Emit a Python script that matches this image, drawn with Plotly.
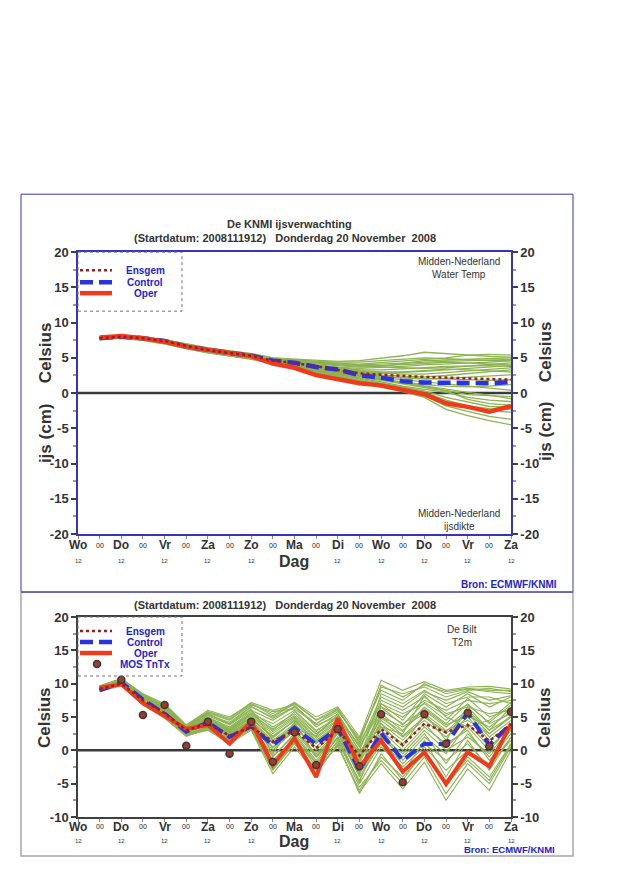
import plotly.graph_objects as go

# ---------------- data ----------------
hours = [12, 24, 36, 48, 60, 72, 84, 96, 108, 120, 132, 144, 156, 168, 180, 192, 204, 216, 228, 240]

tick_hours = [0, 12, 24, 36, 48, 60, 72, 84, 96, 108, 120, 132, 144, 156, 168, 180, 192, 204, 216, 228, 240]
tick_labels = ["Wo", "00", "Do", "00", "Vr", "00", "Za", "00", "Zo", "00", "Ma",
               "00", "Di", "00", "Wo", "00", "Do", "00", "Vr", "00", "Za"]

# top panel: water temperature / ice thickness (Midden-Nederland)
wt_ensgem = [7.8, 8.0, 7.8, 7.4, 6.7, 6.1, 5.7, 5.3, 4.6, 4.3, 3.8, 3.3, 2.8, 2.6, 2.4, 2.3, 2.2, 2.1, 2.0, 1.9]
wt_control = [7.8, 8.0, 7.8, 7.4, 6.6, 6.1, 5.7, 5.3, 4.6, 4.3, 3.7, 3.35, 2.55, 2.2, 1.7, 1.5, 1.4, 1.45, 1.4, 1.55]
wt_oper = [7.9, 8.1, 7.8, 7.3, 6.6, 6.1, 5.6, 5.25, 4.2, 3.6, 2.55, 1.9, 1.4, 1.1, 0.4, -0.15, -1.45, -1.95, -2.65, -1.85]

wt_members = [
    [7.9, 8.1, 7.9, 7.6, 7.0, 6.4, 6.0, 5.6, 5.0, 4.8, 4.6, 4.5, 4.6, 4.9, 5.3, 5.8, 5.6, 5.3, 5.2, 5.1],
    [7.8, 8.0, 7.8, 7.4, 6.7, 6.2, 5.8, 5.4, 4.9, 4.7, 4.4, 4.2, 4.1, 4.3, 4.5, 4.7, 5.0, 5.4, 5.5, 5.4],
    [7.7, 7.9, 7.7, 7.3, 6.6, 6.0, 5.6, 5.2, 4.5, 4.2, 3.9, 3.7, 3.5, 3.6, 3.8, 4.0, 4.1, 4.2, 4.4, 4.6],
    [7.8, 8.0, 7.8, 7.4, 6.8, 6.2, 5.7, 5.3, 4.7, 4.4, 4.1, 3.9, 3.7, 3.8, 4.2, 4.6, 4.7, 4.8, 4.9, 5.0],
    [7.9, 8.0, 7.8, 7.3, 6.6, 6.1, 5.6, 5.2, 4.5, 4.1, 3.6, 3.2, 2.9, 2.8, 2.9, 3.1, 3.3, 3.5, 3.7, 3.9],
    [7.8, 8.1, 7.9, 7.5, 6.8, 6.2, 5.8, 5.4, 4.8, 4.5, 4.2, 4.0, 3.8, 3.7, 3.6, 3.5, 3.6, 3.8, 4.0, 4.3],
    [7.7, 7.9, 7.7, 7.2, 6.5, 5.9, 5.5, 5.1, 4.4, 4.0, 3.4, 2.9, 2.4, 2.0, 1.6, 1.2, 1.0, 0.9, 1.0, 1.2],
    [7.8, 8.0, 7.7, 7.3, 6.6, 6.0, 5.6, 5.1, 4.4, 3.9, 3.2, 2.7, 2.1, 1.6, 1.0, 0.5, 0.1, -0.6, -1.0, -1.2],
    [7.7, 7.9, 7.6, 7.1, 6.4, 5.8, 5.3, 4.9, 4.3, 3.8, 3.1, 2.5, 1.8, 1.2, 0.6, 0.1, -1.0, -1.8, -2.2, -2.3],
    [7.8, 8.0, 7.7, 7.2, 6.5, 5.9, 5.5, 5.0, 4.2, 3.7, 2.9, 2.3, 1.6, 1.0, 0.4, -0.4, -1.8, -2.6, -3.3, -3.7],
    [7.9, 8.1, 7.8, 7.4, 6.7, 6.1, 5.7, 5.3, 4.6, 4.2, 3.6, 3.1, 2.6, 2.3, 2.1, 2.0, 2.1, 2.3, 2.4, 2.6],
    [7.8, 8.0, 7.8, 7.4, 6.7, 6.1, 5.6, 5.2, 4.5, 4.1, 3.5, 3.0, 2.4, 2.0, 1.5, 1.0, 0.4, -0.2, -0.4, -0.5],
    [7.6, 7.8, 7.5, 7.0, 6.3, 5.7, 5.3, 4.8, 4.1, 3.6, 2.8, 2.1, 1.4, 0.8, 0.2, -0.6, -2.3, -3.2, -3.9, -4.5],
    [7.9, 8.2, 8.0, 7.6, 7.0, 6.4, 6.0, 5.6, 5.0, 4.7, 4.5, 4.4, 4.4, 4.6, 4.8, 5.0, 4.9, 4.7, 4.6, 4.6],
    [7.8, 8.0, 7.8, 7.4, 6.7, 6.1, 5.7, 5.3, 4.7, 4.4, 4.0, 3.6, 3.2, 3.0, 3.0, 3.2, 3.4, 3.3, 3.1, 3.0],
    [7.7, 7.9, 7.7, 7.3, 6.6, 6.0, 5.5, 5.1, 4.4, 4.0, 3.4, 3.0, 2.5, 2.2, 1.9, 1.6, 1.3, 1.0, 0.6, 0.4],
    [7.8, 8.0, 7.7, 7.3, 6.6, 6.0, 5.5, 5.1, 4.3, 3.8, 3.0, 2.4, 1.7, 1.1, 0.5, -0.1, -1.3, -2.0, -2.5, -2.7],
    [7.9, 8.1, 7.9, 7.5, 6.9, 6.3, 5.9, 5.5, 4.8, 4.5, 4.3, 4.1, 3.9, 3.9, 4.0, 4.2, 4.4, 4.3, 4.1, 4.0],
    [7.8, 8.0, 7.8, 7.3, 6.6, 6.0, 5.6, 5.2, 4.6, 4.2, 3.7, 3.4, 3.0, 2.6, 2.4, 2.3, 2.5, 2.8, 3.0, 3.3],
    [7.7, 7.9, 7.7, 7.3, 6.6, 6.0, 5.5, 5.1, 4.4, 4.0, 3.4, 2.8, 2.2, 1.8, 1.3, 0.8, 0.3, -0.9, -1.5, -1.7],
    [7.8, 8.0, 7.8, 7.4, 6.8, 6.2, 5.8, 5.4, 4.8, 4.6, 4.3, 4.1, 4.0, 4.1, 4.3, 4.4, 4.5, 4.6, 4.7, 4.8],
    [7.8, 8.0, 7.7, 7.3, 6.6, 6.0, 5.6, 5.2, 4.5, 4.1, 3.5, 3.1, 2.7, 2.4, 2.2, 2.1, 1.9, 1.8, 1.8, 1.9],
    [7.9, 8.1, 7.8, 7.4, 6.7, 6.1, 5.7, 5.3, 4.6, 4.3, 3.9, 3.6, 3.3, 3.3, 3.4, 3.6, 3.8, 3.9, 3.9, 3.8],
    [7.6, 7.8, 7.5, 7.0, 6.3, 5.7, 5.3, 4.9, 4.3, 3.9, 3.3, 2.6, 2.0, 1.4, 0.9, 0.3, -0.6, -1.3, -1.9, -2.0],
    [7.8, 8.0, 7.8, 7.3, 6.7, 6.1, 5.6, 5.2, 4.6, 4.3, 3.8, 3.5, 3.1, 2.9, 2.7, 2.7, 2.9, 3.1, 3.4, 3.6],
    [7.8, 8.0, 7.7, 7.3, 6.6, 6.0, 5.6, 5.1, 4.4, 4.0, 3.3, 2.8, 2.3, 1.9, 1.5, 1.0, 0.6, 0.1, -0.3, -0.8],
]

# bottom panel: T2m De Bilt
t2m_ensgem = [9.2, 10.0, 7.5, 5.6, 3.0, 4.0, 2.2, 3.5, 1.3, 3.0, 0.3, 3.0, -0.8, 3.2, 0.8, 4.0, 2.7, 3.8, 1.4, 3.9]
t2m_control = [9.0, 10.2, 7.6, 5.5, 2.8, 4.2, 2.0, 3.6, 0.8, 3.4, 0.9, 3.3, -3.0, 2.6, -1.5, 1.0, 0.9, 5.6, 0.8, 4.0]
t2m_oper = [9.4, 9.9, 7.1, 5.1, 3.2, 3.8, 1.0, 4.3, -2.2, 1.8, -4.0, 4.8, -2.5, 1.5, -3.2, -0.3, -5.0, -0.3, -2.4, 4.0]
mos_tntx = [None, 10.6, 5.3, 6.8, 0.7, 4.3, -0.5, 4.3, -1.7, 2.7, -2.2, 3.2, -2.4, 5.4, -4.8, 5.4, 1.0, 5.6, 0.6, 5.8]

t2m_members = [
    [9.2, 10.3, 7.8, 5.9, 3.0, 4.5, 2.8, 4.8, 2.0, 4.5, 1.5, 3.8, -1.0, 4.0, 1.5, 5.0, 2.5, 5.5, 2.0, 4.5],
    [9.5, 10.6, 8.2, 6.5, 3.5, 5.5, 4.0, 6.5, 5.0, 7.0, 4.5, 6.0, 1.5, 9.5, 8.5, 9.5, 8.0, 9.0, 9.3, 8.8],
    [8.9, 9.8, 7.0, 5.0, 2.3, 3.2, 1.5, 3.5, -2.5, 1.5, -3.0, 1.5, -5.5, -1.5, -5.0, -1.0, -6.5, -2.0, -5.0, 0.5],
    [9.3, 10.4, 7.6, 5.6, 2.9, 4.3, 2.4, 4.2, 1.0, 3.5, 0.5, 3.5, -2.5, 2.5, -1.5, 2.0, -0.5, 4.0, 0.5, 3.5],
    [9.6, 10.7, 8.3, 6.8, 3.7, 5.8, 4.8, 7.2, 6.0, 6.8, 3.5, 5.5, 0.5, 6.5, 5.0, 7.5, 6.0, 7.5, 7.0, 7.5],
    [9.0, 10.0, 7.2, 5.3, 2.6, 3.8, 1.8, 3.8, -1.0, 2.5, -1.5, 2.5, -4.0, 1.0, -3.5, 1.5, -4.0, 1.5, -3.0, 2.0],
    [9.4, 10.5, 8.0, 6.2, 3.3, 5.0, 3.5, 5.8, 3.5, 5.5, 2.5, 5.0, 0.0, 7.5, 6.0, 8.0, 5.5, 6.5, 5.5, 6.0],
    [9.1, 10.1, 7.4, 5.4, 2.5, 3.5, 1.2, 3.2, -3.0, 1.0, -3.3, 0.8, -6.3, -2.0, -5.8, -1.8, -7.5, -2.8, -6.0, 0.0],
    [9.3, 10.3, 7.7, 5.8, 3.1, 4.8, 3.0, 5.2, 2.8, 5.0, 2.0, 4.5, -0.5, 5.5, 3.0, 6.5, 4.0, 7.0, 4.0, 5.5],
    [9.7, 10.8, 8.5, 7.0, 3.8, 6.0, 5.0, 7.0, 5.5, 7.2, 5.0, 6.5, 2.0, 10.5, 9.0, 10.3, 9.0, 9.5, 9.6, 9.2],
    [9.0, 9.9, 7.1, 5.1, 2.2, 3.0, 1.0, 3.0, -3.5, 0.5, -3.5, 1.0, -6.5, -0.5, -4.5, 0.0, -5.5, -1.0, -4.0, 1.0],
    [9.2, 10.2, 7.5, 5.5, 2.7, 4.0, 2.2, 4.0, 0.0, 3.0, -0.5, 3.0, -3.0, 3.0, 0.0, 3.5, 1.0, 3.0, -1.5, 2.5],
    [9.4, 10.4, 7.9, 6.0, 3.2, 4.7, 3.2, 5.5, 4.0, 6.0, 3.0, 4.8, -1.5, 8.5, 7.0, 9.0, 7.0, 8.0, 8.0, 7.0],
    [8.8, 9.7, 6.8, 4.8, 2.1, 3.3, 1.6, 3.4, -2.0, 2.0, -2.5, 2.0, -5.0, 0.5, -2.5, 0.5, -3.0, 0.0, -2.0, 1.5],
    [9.5, 10.5, 8.1, 6.3, 3.4, 5.2, 3.8, 6.0, 4.5, 6.5, 4.0, 6.2, 1.0, 7.0, 4.5, 8.5, 6.5, 8.5, 6.5, 8.0],
    [9.1, 10.0, 7.3, 5.2, 2.4, 3.6, 1.4, 3.6, -1.5, 1.8, -2.0, 1.2, -4.5, 2.0, -1.0, 2.5, -2.0, 2.5, -1.0, 3.0],
    [9.3, 10.2, 7.6, 5.7, 3.0, 4.4, 2.6, 4.5, 1.5, 4.0, 1.0, 4.0, -2.0, 4.5, 2.0, 4.5, 2.0, 5.0, 1.5, 4.0],
    [9.6, 10.6, 8.4, 6.6, 3.6, 5.6, 4.5, 6.8, 5.8, 6.2, 4.0, 5.8, 1.8, 9.0, 7.5, 10.0, 8.5, 9.2, 8.8, 8.5],
    [9.0, 10.0, 7.3, 5.3, 2.6, 3.9, 2.0, 4.2, 0.5, 2.8, -1.0, 2.0, -3.5, 1.5, -2.0, 1.0, -1.5, 1.0, -2.5, 2.0],
    [9.4, 10.4, 7.8, 6.1, 3.3, 4.9, 3.3, 5.6, 3.0, 5.8, 2.8, 5.2, 0.5, 6.0, 4.0, 6.0, 3.5, 6.0, 3.0, 6.5],
    [9.2, 10.1, 7.5, 5.6, 2.8, 4.1, 2.3, 4.4, 1.2, 3.8, 0.0, 3.2, -2.8, 3.5, 1.0, 4.0, 0.5, 3.5, 0.0, 3.8],
    [9.3, 10.3, 7.7, 5.9, 3.1, 4.6, 2.9, 5.0, 2.5, 4.8, 1.8, 4.2, -1.2, 5.0, 3.5, 5.5, 3.0, 4.5, 2.5, 5.0],
    [9.1, 10.2, 7.4, 5.6, 2.6, 4.0, 2.1, 4.6, -0.5, 4.2, -1.0, 2.8, -3.8, 7.0, 5.5, 7.0, 4.5, 7.8, 5.0, 6.2],
    [9.4, 10.5, 7.9, 6.0, 3.4, 5.4, 3.9, 6.2, 1.5, 3.2, 2.2, 5.4, -0.2, 3.5, 2.5, 8.2, 5.0, 3.5, 4.5, 7.2],
    [9.0, 10.1, 7.2, 5.0, 2.4, 3.4, 1.7, 3.9, -0.8, 2.2, -1.8, 1.8, -4.8, 4.0, 0.5, 5.5, 1.5, 6.5, 3.0, 5.0],
    [9.5, 10.6, 8.0, 6.4, 3.5, 5.3, 4.2, 6.6, 4.8, 6.6, 3.8, 5.0, 0.8, 8.0, 6.5, 8.8, 7.5, 8.8, 7.5, 8.2],
    [9.2, 10.2, 7.6, 5.7, 2.9, 4.2, 2.5, 4.6, 2.2, 4.4, 1.2, 3.6, -1.8, 6.5, 3.8, 7.2, 5.2, 6.8, 4.2, 6.8],
    [8.9, 9.9, 7.0, 4.9, 2.3, 3.1, 1.3, 3.3, -2.8, 1.2, -2.8, 0.6, -6.0, -1.0, -4.0, -0.5, -5.0, -1.5, -4.5, 0.8],
    [9.3, 10.4, 7.8, 6.0, 3.2, 4.6, 3.1, 5.4, 3.2, 5.2, 2.4, 4.6, -0.8, 4.8, 2.8, 6.2, 3.8, 5.2, 3.5, 5.8],
    [9.1, 10.1, 7.4, 5.4, 2.7, 4.0, 2.0, 4.1, 0.3, 3.2, -0.8, 2.6, -3.2, 2.2, -0.5, 3.0, 0.0, 2.0, -0.5, 3.2],
    [9.6, 10.7, 8.3, 6.7, 3.6, 5.7, 4.6, 7.0, 5.2, 7.1, 4.6, 6.3, 1.2, 9.8, 8.0, 9.8, 8.8, 9.3, 9.0, 9.0],
    [9.2, 10.3, 7.7, 5.8, 3.0, 4.4, 2.7, 4.9, 1.8, 4.6, 1.3, 4.0, -1.5, 5.2, 2.2, 5.0, 2.8, 5.8, 2.5, 5.2],
]

top_yticks = [20, 15, 10, 5, 0, -5, -10, -15, -20]
bot_yticks = [20, 15, 10, 5, 0, -5, -10]

legend_names_top = ["Ensgem", "Control", "Oper"]
legend_names_bot = ["Ensgem", "Control", "Oper", "MOS TnTx"]

# ---------------- style ----------------
OFF = 8                       # page body margin of the browser
W, H = 640 - 2 * OFF, 880 - 2 * OFF
YS, YO = 0.983, 15.0          # measured vertical mapping of the photographed page
FONT = "Liberation Sans, Arial, sans-serif"
GREEN = "#8db353"
RED = "#f03a1c"
BLUE = "#2a33e0"
DOTRED = "#9a1f1f"
TXT = "#333333"
LEGBLUE = "#2424c8"
AXBLUE = "#3535b5"
AXGRAY = "#404040"
MOSFILL = "#a03a30"
MOSLINE = "#3a3a3a"
CTRL_DASH = "13px,6px"


def px(x):
    return (x - OFF) / W


def py(y):
    return 1 - (y / YS - YO) / H


top_dom = [py(534), py(252)]
bot_dom = [py(817), py(617)]
x_dom = [px(78), px(511)]

fig = go.Figure()

# top panel
for m in wt_members:
    fig.add_trace(go.Scatter(x=hours, y=m, mode="lines", xaxis="x", yaxis="y",
                             line=dict(color=GREEN, width=1.3), showlegend=False, hoverinfo="skip"))
fig.add_trace(go.Scatter(x=hours, y=wt_control, mode="lines", name="Control", xaxis="x", yaxis="y",
                         line=dict(color=BLUE, width=4.5, dash=CTRL_DASH), showlegend=False))
fig.add_trace(go.Scatter(x=hours, y=wt_oper, mode="lines", name="Oper", xaxis="x", yaxis="y",
                         line=dict(color=RED, width=4.5), showlegend=False))
fig.add_trace(go.Scatter(x=hours, y=wt_ensgem, mode="lines", name="Ensgem", xaxis="x", yaxis="y",
                         line=dict(color=DOTRED, width=2.5, dash="dot"), showlegend=False))
fig.add_trace(go.Scatter(x=hours, y=wt_oper, mode="lines", xaxis="x", yaxis="y3", opacity=0,
                         line=dict(width=0), showlegend=False, hoverinfo="skip"))

# bottom panel
for m in t2m_members:
    fig.add_trace(go.Scatter(x=hours, y=m, mode="lines", xaxis="x2", yaxis="y2",
                             line=dict(color=GREEN, width=1.1), showlegend=False, hoverinfo="skip"))
fig.add_trace(go.Scatter(x=hours, y=t2m_control, mode="lines", name="Control", xaxis="x2", yaxis="y2",
                         line=dict(color=BLUE, width=4, dash=CTRL_DASH), showlegend=False))
fig.add_trace(go.Scatter(x=hours, y=t2m_oper, mode="lines", name="Oper", xaxis="x2", yaxis="y2",
                         line=dict(color=RED, width=4), showlegend=False))
fig.add_trace(go.Scatter(x=hours, y=t2m_ensgem, mode="lines", name="Ensgem", xaxis="x2", yaxis="y2",
                         line=dict(color=DOTRED, width=2.5, dash="dot"), showlegend=False))
fig.add_trace(go.Scatter(x=hours, y=mos_tntx, mode="markers", name="MOS TnTx", xaxis="x2", yaxis="y2",
                         marker=dict(color=MOSFILL, size=7, line=dict(color=MOSLINE, width=1.5)),
                         showlegend=False))
fig.add_trace(go.Scatter(x=hours, y=t2m_oper, mode="lines", xaxis="x2", yaxis="y4", opacity=0,
                         line=dict(width=0), showlegend=False, hoverinfo="skip"))

tickfont = dict(family=FONT, size=13, color=TXT, weight="bold")


def yax(dom, rng, ticks, side, linecolor, anchor, overlay=None):
    d = dict(domain=dom, range=rng, tickvals=ticks, ticktext=[str(t) for t in ticks],
             side=side, anchor=anchor, showgrid=False, zeroline=False,
             showline=True, linecolor=linecolor, linewidth=1.5,
             ticks="outside", ticklen=5, tickcolor=AXGRAY, tickwidth=1.5,
             tickfont=tickfont, fixedrange=True,
             minor=dict(dtick=2.5, ticks="outside", ticklen=3, tickcolor="#999999"))
    if overlay:
        d["overlaying"] = overlay
    return d


def xax(anchor, linecolor):
    return dict(domain=x_dom, range=[0, 240], anchor=anchor, tickvals=tick_hours,
                showticklabels=False, ticks="outside", ticklen=3, tickcolor="#888888",
                showgrid=False, zeroline=False, showline=True, mirror=True,
                linecolor=linecolor, linewidth=1.5, fixedrange=True)


fig.update_layout(
    width=W, height=H,
    margin=dict(l=0, r=0, t=0, b=0),
    paper_bgcolor="white", plot_bgcolor="white",
    font=dict(family=FONT, color=TXT),
    xaxis=xax("y", AXBLUE),
    yaxis=yax(top_dom, [-20, 20], top_yticks, "left", AXBLUE, "x"),
    yaxis3=yax(top_dom, [-20, 20], top_yticks, "right", AXBLUE, "x", overlay="y"),
    xaxis2=xax("y2", AXGRAY),
    yaxis2=yax(bot_dom, [-10, 20], bot_yticks, "left", AXGRAY, "x2"),
    yaxis4=yax(bot_dom, [-10, 20], bot_yticks, "right", AXGRAY, "x2", overlay="y2"),
    showlegend=False,
)

shapes = []
# outer frames
shapes.append(dict(type="rect", xref="paper", yref="paper", x0=px(21), x1=px(573), y0=py(592), y1=py(194),
                   line=dict(color=AXBLUE, width=1), layer="below"))
shapes.append(dict(type="rect", xref="paper", yref="paper", x0=px(21), x1=px(573), y0=py(856), y1=py(592),
                   line=dict(color="#a8a8a8", width=1.5), layer="below"))
shapes.append(dict(type="line", xref="paper", yref="paper", x0=px(21), x1=px(573), y0=py(592), y1=py(592),
                   line=dict(color=AXBLUE, width=1)))
# legend boxes
shapes.append(dict(type="rect", xref="paper", yref="paper", x0=px(78), x1=px(182), y0=py(311), y1=py(252),
                   line=dict(color="#6a6ab0", width=1, dash="dot")))
shapes.append(dict(type="rect", xref="paper", yref="paper", x0=px(78), x1=px(182), y0=py(676), y1=py(617),
                   line=dict(color="#707070", width=1, dash="dot")))
# zero lines
shapes.append(dict(type="line", xref="x domain", yref="y", x0=0, x1=1, y0=0, y1=0,
                   line=dict(color="#3a3a3a", width=2.5), layer="below"))
shapes.append(dict(type="line", xref="x2 domain", yref="y2", x0=0, x1=1, y0=0, y1=0,
                   line=dict(color="#3a3a3a", width=2.5), layer="below"))

# legend swatches (hand-laid legend, like the original)
swatch_style = {
    "Ensgem": dict(color=DOTRED, width=2.5, dash="dot"),
    "Control": dict(color=BLUE, width=4.5, dash=CTRL_DASH),
    "Oper": dict(color=RED, width=4.5),
}
legend_rows_top = [270, 282, 293]
legend_rows_bot = [631, 642, 653, 664]
ann = []


def text(x, y, s, size, bold=False, color=TXT, angle=0, xref="paper", xanchor="center"):
    ann.append(dict(x=x, y=y, xref=xref, yref="paper", text=s, showarrow=False,
                    xanchor=xanchor, yanchor="middle", textangle=angle,
                    font=dict(family=FONT, size=size, color=color, weight="bold" if bold else "normal")))


for names, rows in ((legend_names_top, legend_rows_top), (legend_names_bot, legend_rows_bot)):
    for name, yy in zip(names, rows):
        if name in swatch_style:
            shapes.append(dict(type="line", xref="paper", yref="paper", x0=px(80), x1=px(112),
                               y0=py(yy), y1=py(yy), line=swatch_style[name]))
        else:
            shapes.append(dict(type="circle", xref="paper", yref="paper", x0=px(93.5), x1=px(100.5),
                               y0=py(yy + 3.5), y1=py(yy - 3.5), fillcolor=MOSFILL,
                               line=dict(color=MOSLINE, width=1.5)))
        text(px(145), py(yy), name, 10, True, color=LEGBLUE)

fig.update_layout(shapes=shapes)

title2 = "(Startdatum: 2008111912)&nbsp;&nbsp; Donderdag 20 November&nbsp; 2008"
text(px(289), py(224), "De KNMI ijsverwachting", 11, True)
text(px(285), py(238), title2, 11, True)
text(px(285), py(605), title2, 11, True)

text(px(459), py(261), "Midden-Nederland", 10)
text(px(459), py(274), "Water Temp", 10)
text(px(459), py(513), "Midden-Nederland", 10)
text(px(459), py(526), "ijsdikte", 10)
text(px(462), py(629), "De Bilt", 10)
text(px(462), py(642), "T2m", 10)

text(px(509), py(584), "Bron: ECMWF/KNMI", 10, True, color=LEGBLUE)
text(px(509), py(850), "Bron: ECMWF/KNMI", 9.5, True, color=LEGBLUE)

text(px(294), py(561), "Dag", 16, True)
text(px(294), py(842), "Dag", 16, True)

text(px(45), py(353), "Celsius", 17, True, angle=-90)
text(px(45), py(433), "ijs (cm)", 17, True, angle=-90)
text(px(545), py(352), "Celsius", 17, True, angle=-90)
text(px(545), py(431), "ijs (cm)", 17, True, angle=-90)
text(px(45), py(718), "Celsius", 17, True, angle=-90)
text(px(545), py(718), "Celsius", 17, True, angle=-90)

for xr, ylab, y12 in (("x", 545, 561), ("x2", 827, 841)):
    for h, lab in zip(tick_hours, tick_labels):
        if lab == "00":
            text(h, py(ylab), lab, 7, False, color="#222222", xref=xr)
        else:
            text(h, py(ylab), lab, 12, True, xref=xr)
            if h != 120:          # "Dag" sits where the Ma "12" would be
                text(h, py(y12), "12", 6, False, xref=xr)

fig.update_layout(annotations=ann)

fig.write_html("out.html")
